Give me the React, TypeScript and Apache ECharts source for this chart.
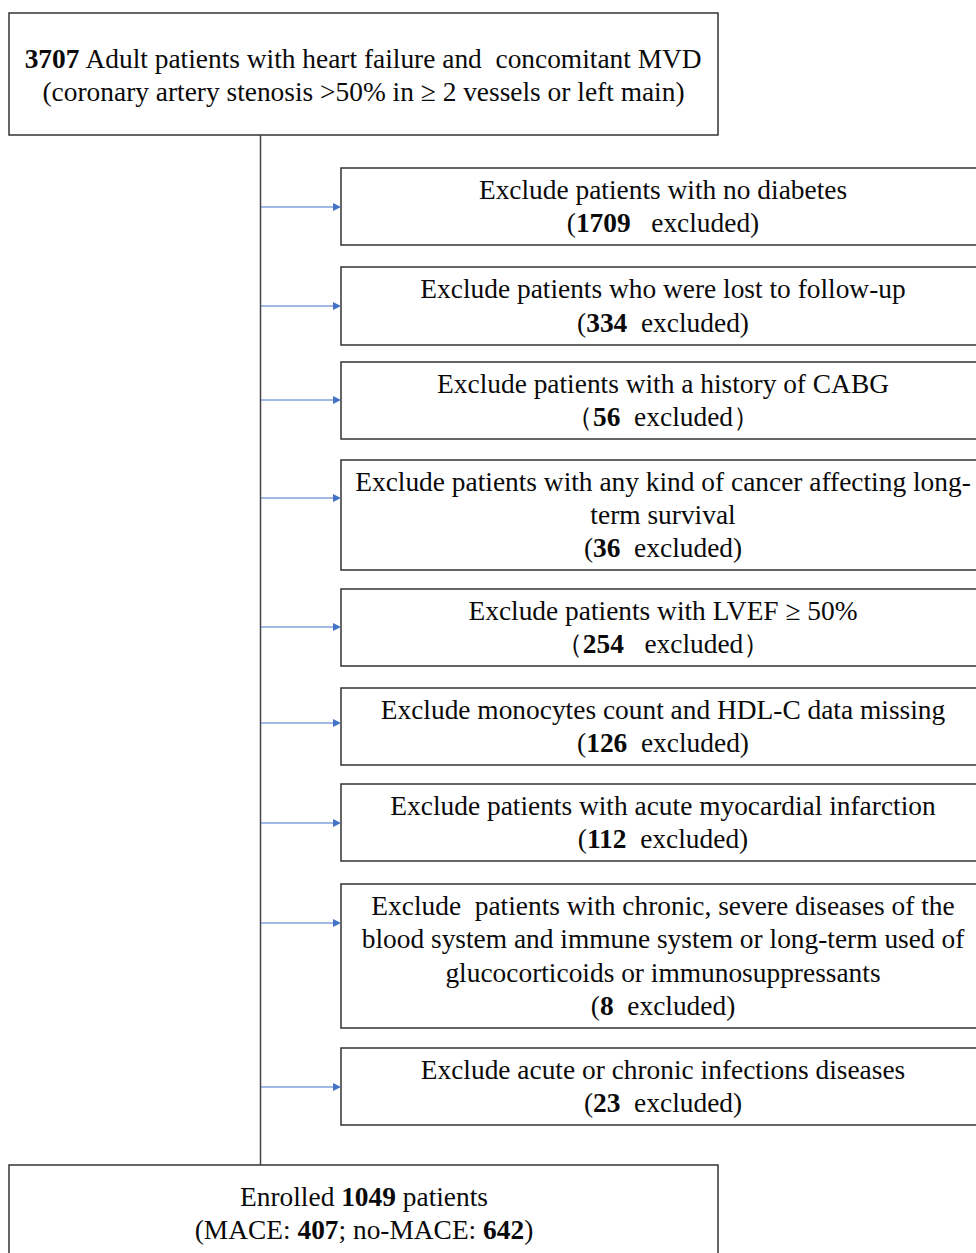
import React, { useEffect, useRef } from "react";
import * as echarts from "echarts";

// ---- data ----
const totalPatients = 3707;
const enrolledPatients = 1049;
const maceCount = 407;
const noMaceCount = 642;
const exclusionReasons: string[][] = [
  ["Exclude patients with no diabetes"],
  ["Exclude patients who were lost to follow-up"],
  ["Exclude patients with a history of CABG"],
  ["Exclude patients with any kind of cancer affecting long-", "term survival"],
  ["Exclude patients with LVEF \u2265 50%"],
  ["Exclude monocytes count and HDL-C data missing"],
  ["Exclude patients with acute myocardial infarction"],
  [
    "Exclude  patients with chronic, severe diseases of the",
    "blood system and immune system or long-term used of",
    "glucocorticoids or immunosuppressants",
  ],
  ["Exclude acute or chronic infections diseases"],
];
const excludedCounts = [1709, 334, 56, 36, 254, 126, 112, 8, 23];
// bracket style used in each count line (some use full-width brackets)
const countBrackets: [string, string, string][] = [
  ["(", ")", "   "],
  ["(", ")", "  "],
  ["\uff08", "\uff09", "  "],
  ["(", ")", "  "],
  ["\uff08", "\uff09", "   "],
  ["(", ")", "  "],
  ["(", ")", "  "],
  ["(", ")", "  "],
  ["(", ")", "  "],
];

// ---- layout ----
const boxTops = [168, 267, 362, 460, 589, 688, 784, 884, 1048];
const boxBottoms = [245, 345, 439, 570, 666, 765, 861, 1028, 1125];
const arrowYs = [207, 306, 400, 498, 627, 723, 823, 923, 1087];
const LINE_H = 33.3;
const FS = 27.4;
const FONT_N = `${FS}px Liberation Serif`;
const FONT_B = `bold ${FS}px Liberation Serif`;
const TEXT_COLOR = "#0a0a0a";
const BOX_COLOR = "#333";

export default function App() {
  const ref = useRef<HTMLDivElement>(null);
  useEffect(() => {
    if (!ref.current) return;
    const chart = echarts.init(ref.current, undefined, { renderer: "svg" });
    const rich = {
      b: { font: FONT_B, fill: TEXT_COLOR },
      n: { font: FONT_N, fill: TEXT_COLOR },
    };
    const textEl = (text: string, x: number, y: number, useRich: boolean) => {
      const style: any = {
        text,
        fill: TEXT_COLOR,
        font: FONT_N,
        align: "center",
        verticalAlign: "middle",
      };
      if (useRich) style.rich = rich;
      return { type: "text", x, y, style };
    };
    const els: any[] = [];
    // top box
    els.push({
      type: "rect",
      shape: { x: 9, y: 13, width: 709, height: 122 },
      style: { fill: "#fff", stroke: BOX_COLOR, lineWidth: 1.5 },
    });
    els.push(textEl(`{b|${totalPatients}}{n| Adult patients with heart failure and  concomitant MVD}`, 363.5, 59, true));
    els.push(textEl("(coronary artery stenosis >50% in \u2265 2 vessels or left main)", 363.5, 92, false));
    // vertical trunk
    els.push({
      type: "line",
      shape: { x1: 260.5, y1: 135, x2: 260.5, y2: 1165 },
      style: { stroke: "#444", lineWidth: 1.5 },
    });
    // exclusion boxes
    exclusionReasons.forEach((lines, i) => {
      const top = boxTops[i];
      const bottom = boxBottoms[i];
      els.push({
        type: "rect",
        shape: { x: 341, y: top, width: 660, height: bottom - top },
        style: { fill: "#fff", stroke: BOX_COLOR, lineWidth: 1.5 },
      });
      const all = lines.length + 1;
      const mid = (top + bottom) / 2;
      const start = mid - ((all - 1) * LINE_H) / 2;
      lines.forEach((ln, j) => {
        els.push(textEl(ln, 663, start + j * LINE_H, false));
      });
      const [o, c, sp] = countBrackets[i];
      els.push(
        textEl(`{n|${o}}{b|${excludedCounts[i]}}{n|${sp}excluded${c}}`, 663, start + lines.length * LINE_H, true)
      );
      // arrow
      const ay = arrowYs[i];
      els.push({
        type: "line",
        shape: { x1: 261, y1: ay, x2: 335, y2: ay },
        style: { stroke: "#4472C4", lineWidth: 1 },
      });
      els.push({
        type: "polygon",
        shape: { points: [[333, ay - 4], [341, ay], [333, ay + 4]] },
        style: { fill: "#4472C4" },
      });
    });
    // bottom box
    els.push({
      type: "rect",
      shape: { x: 9, y: 1165, width: 709, height: 110 },
      style: { fill: "#fff", stroke: BOX_COLOR, lineWidth: 1.5 },
    });
    els.push(textEl(`{n|Enrolled }{b|${enrolledPatients}}{n| patients}`, 364, 1197, true));
    els.push(textEl(`{n|(MACE: }{b|${maceCount}}{n|; no-MACE: }{b|${noMaceCount}}{n|)}`, 364, 1230, true));

    chart.setOption({
      animation: false,
      backgroundColor: "#fff",
      graphic: { elements: els },
    });
    return () => chart.dispose();
  }, []);
  return (
    <div
      ref={ref}
      style={{ position: "fixed", left: 0, top: 0, width: 976, height: 1253, background: "#fff" }}
    />
  );
}
